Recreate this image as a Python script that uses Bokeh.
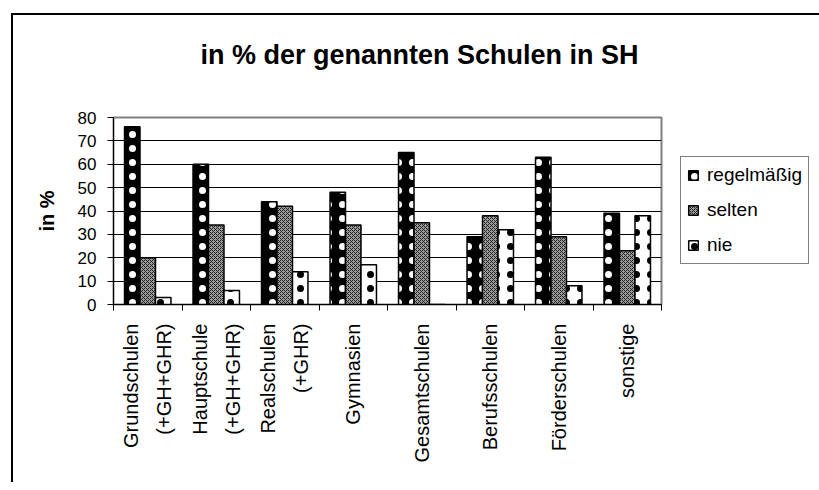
import math
from bokeh.plotting import figure
from bokeh.models import ColumnDataSource, FixedTicker, Legend, LegendItem, Range1d, Title
from bokeh.transform import dodge
from bokeh.embed import file_html
from bokeh.resources import INLINE

categories = ["Grundschulen\n(+GH+GHR)", "Hauptschule\n(+GH+GHR)", "Realschulen\n(+GHR)",
              "Gymnasien", "Gesamtschulen", "Berufsschulen", "Förderschulen", "sonstige"]
regelmaessig = [76, 60, 44, 48, 65, 29, 63, 39]
selten = [20, 34, 42, 34, 35, 38, 29, 23]
nie = [3, 6, 14, 17, 0, 32, 8, 38]
series_names = ["regelmäßig", "selten", "nie"]
y_ticks = [0, 10, 20, 30, 40, 50, 60, 70, 80]
title_text = "in % der genannten Schulen in SH"

xpos = list(range(1, len(categories) + 1))
source = ColumnDataSource(dict(x=xpos, reg=regelmaessig, sel=selten, nie=nie))

FONT = "Liberation Sans"

p = figure(frame_width=548, frame_height=187, min_border_left=100, min_border_top=102,
           min_border_right=150, min_border_bottom=178,
           x_range=Range1d(0.5, len(categories) + 0.5), y_range=Range1d(0, 80),
           output_backend="svg", toolbar_location=None, tools="")
p.styles = {"border-left": "2px solid black", "border-top": "2px solid black",
            "margin-left": "11px", "margin-top": "13px"}

# main title (outermost); a blank spacer title between it and the frame pushes it up
p.title.text = title_text
p.title.align = "left"
p.title.offset = 87
p.title.text_font = FONT
p.title.text_font_size = "27px"
p.title.text_font_style = "bold"
p.title.text_color = "black"
p.add_layout(Title(text="\u00a0", text_font_size="28px"), "above")

bw = 0.226
r1 = p.vbar(x=dodge("x", -bw, range=p.x_range), top="reg", width=bw, source=source,
            fill_color="black", line_color="black", line_width=1.5,
            hatch_pattern="dot", hatch_color="white", hatch_scale=14, hatch_weight=0.5)
r2 = p.vbar(x=dodge("x", 0, range=p.x_range), top="sel", width=bw, source=source,
            fill_color="#9c9c9c", line_color="black", line_width=1.5,
            hatch_pattern="diagonal_cross", hatch_color="#222222", hatch_scale=4, hatch_weight=1)
r3 = p.vbar(x=dodge("x", bw, range=p.x_range), top="nie", width=bw, source=source,
            fill_color="white", line_color="black", line_width=1.5,
            hatch_pattern="dot", hatch_color="black", hatch_scale=14, hatch_weight=0.5)

# axes
p.xaxis.ticker = FixedTicker(ticks=xpos, minor_ticks=[v - 0.5 for v in xpos] + [xpos[-1] + 0.5])
p.xaxis.major_label_overrides = {v: c for v, c in zip(xpos, categories)}
p.xaxis.major_label_orientation = math.pi / 2
p.xaxis.major_tick_out = 0
p.xaxis.major_tick_in = 0
p.xaxis.minor_tick_out = 6
p.xaxis.minor_tick_in = 0
p.xaxis.major_label_standoff = 13
p.xaxis.major_label_text_font = FONT
p.xaxis.major_label_text_font_size = "20px"
p.xaxis.major_label_text_line_height = 1.5
p.xaxis.major_label_text_color = "black"
p.xaxis.axis_line_color = "black"
p.xaxis.minor_tick_line_color = "black"

p.yaxis.ticker = FixedTicker(ticks=y_ticks)
p.yaxis.major_tick_out = 6
p.yaxis.major_tick_in = 0
p.yaxis.minor_tick_line_color = None
p.yaxis.major_label_standoff = 11
p.yaxis.major_label_text_font = FONT
p.yaxis.major_label_text_font_size = "17px"
p.yaxis.major_label_text_color = "black"
p.yaxis.axis_label = "in %"
p.yaxis.axis_label_text_font = FONT
p.yaxis.axis_label_text_font_size = "20px"
p.yaxis.axis_label_text_font_style = "bold"
p.yaxis.axis_label_text_color = "black"
p.yaxis.axis_label_standoff = 17
p.yaxis.axis_line_color = "black"

p.xgrid.grid_line_color = None
p.ygrid.ticker = FixedTicker(ticks=y_ticks[1:-1])
p.ygrid.grid_line_color = "black"
p.ygrid.grid_line_width = 1

p.outline_line_color = "#808080"
p.outline_line_width = 2
p.background_fill_color = "white"

legend = Legend(items=[LegendItem(label=series_names[0], renderers=[r1]),
                       LegendItem(label=series_names[1], renderers=[r2]),
                       LegendItem(label=series_names[2], renderers=[r3])],
                location=(19, 40))
legend.label_text_font = FONT
legend.label_text_font_size = "19px"
legend.label_text_color = "black"
legend.glyph_height = 12
legend.glyph_width = 12
legend.label_height = 24
legend.spacing = 11
legend.padding = 6
legend.margin = 0
legend.label_standoff = 8
legend.border_line_color = "black"
legend.border_line_width = 1
legend.background_fill_alpha = 1
p.add_layout(legend, "right")

open("out.html", "w").write(file_html(p, INLINE))
